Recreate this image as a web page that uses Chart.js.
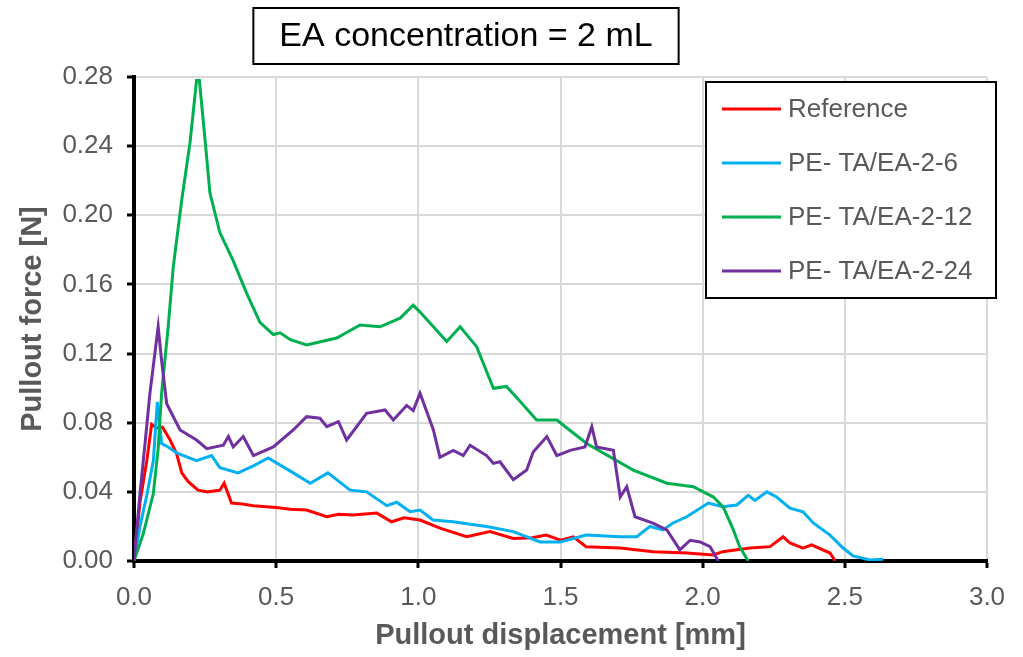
<!DOCTYPE html>
<html lang="en">
  <head>
    <meta charset="UTF-8" />
    <title>Pullout force vs displacement</title>
    <script src="https://cdn.jsdelivr.net/npm/chart.js@4/dist/chart.umd.min.js"></script>
    <style>
      body { margin: 0; background: #fff; }
      #wrap { width: 1023px; height: 657px; }
    </style>
  </head>
  <body>
    <div id="wrap"><canvas id="myChart" width="1023" height="657"></canvas></div>
    <script>
      // series labels + colours (Excel defaults)
      const seriesNames = ["Reference", "PE- TA/EA-2-6", "PE- TA/EA-2-12", "PE- TA/EA-2-24"];
      const seriesColors = ["#FF0000", "#00B0F0", "#00B050", "#7030A0"];

      // axis ticks
      const xTicks = [0, 0.5, 1.0, 1.5, 2.0, 2.5, 3.0];
      const yTicks = [0, 0.04, 0.08, 0.12, 0.16, 0.20, 0.24, 0.28];

      // Reference
      const refX = [0, 0.021, 0.045, 0.062, 0.08, 0.10, 0.127, 0.15, 0.168, 0.19, 0.225, 0.26, 0.302, 0.317, 0.343, 0.38, 0.42, 0.50, 0.55, 0.607, 0.678, 0.72, 0.77, 0.854, 0.906, 0.95, 1.006, 1.076, 1.17, 1.252, 1.334, 1.40, 1.45, 1.50, 1.545, 1.59, 1.71, 1.826, 1.944, 2.037, 2.07, 2.167, 2.237, 2.283, 2.307, 2.353, 2.383, 2.448, 2.466];
      const refY = [0, 0.034, 0.058, 0.079, 0.077, 0.0775, 0.070, 0.062, 0.051, 0.046, 0.041, 0.040, 0.041, 0.045, 0.0335, 0.033, 0.032, 0.031, 0.030, 0.0295, 0.0256, 0.027, 0.0266, 0.0277, 0.0227, 0.025, 0.0237, 0.019, 0.014, 0.017, 0.013, 0.0135, 0.015, 0.012, 0.014, 0.0083, 0.0075, 0.0054, 0.0046, 0.0035, 0.0054, 0.0075, 0.0083, 0.014, 0.0104, 0.0075, 0.0093, 0.0046, 0];

      // PE- TA/EA-2-6
      const s6X = [0, 0.021, 0.045, 0.068, 0.082, 0.097, 0.12, 0.15, 0.22, 0.273, 0.302, 0.366, 0.42, 0.472, 0.55, 0.62, 0.682, 0.76, 0.818, 0.889, 0.924, 0.971, 1.006, 1.052, 1.122, 1.24, 1.334, 1.428, 1.50, 1.59, 1.71, 1.768, 1.815, 1.86, 1.896, 1.944, 2.02, 2.07, 2.12, 2.16, 2.184, 2.226, 2.26, 2.307, 2.353, 2.389, 2.448, 2.494, 2.529, 2.589, 2.635];
      const s6Y = [0, 0.020, 0.038, 0.058, 0.092, 0.068, 0.066, 0.0625, 0.058, 0.061, 0.054, 0.051, 0.055, 0.0596, 0.052, 0.045, 0.051, 0.041, 0.040, 0.032, 0.034, 0.0285, 0.0295, 0.0237, 0.0227, 0.020, 0.017, 0.011, 0.011, 0.015, 0.014, 0.014, 0.020, 0.018, 0.022, 0.0256, 0.0335, 0.0314, 0.0324, 0.038, 0.035, 0.040, 0.037, 0.0306, 0.0285, 0.022, 0.015, 0.0075, 0.0029, 0.0006, 0.001];

      // PE- TA/EA-2-12
      const s12X = [0, 0.033, 0.068, 0.085, 0.097, 0.12, 0.138, 0.168, 0.197, 0.22, 0.23, 0.25, 0.267, 0.302, 0.348, 0.396, 0.443, 0.49, 0.514, 0.55, 0.607, 0.66, 0.713, 0.795, 0.865, 0.936, 0.982, 1.006, 1.053, 1.10, 1.147, 1.205, 1.264, 1.31, 1.36, 1.416, 1.487, 1.592, 1.756, 1.874, 1.967, 2.038, 2.073, 2.108, 2.13, 2.16];
      const s12Y = [0, 0.016, 0.039, 0.065, 0.097, 0.135, 0.170, 0.209, 0.242, 0.278, 0.278, 0.2435, 0.213, 0.190, 0.174, 0.155, 0.138, 0.131, 0.132, 0.128, 0.125, 0.127, 0.129, 0.1365, 0.1355, 0.1405, 0.148, 0.144, 0.1355, 0.127, 0.1355, 0.124, 0.0999, 0.101, 0.092, 0.0816, 0.0816, 0.068, 0.0526, 0.045, 0.043, 0.037, 0.031, 0.018, 0.0083, 0];

      // PE- TA/EA-2-24
      const s24X = [0, 0.021, 0.04, 0.056, 0.085, 0.097, 0.115, 0.162, 0.22, 0.256, 0.314, 0.332, 0.349, 0.384, 0.42, 0.49, 0.56, 0.607, 0.654, 0.678, 0.719, 0.748, 0.818, 0.883, 0.912, 0.959, 0.982, 1.006, 1.053, 1.076, 1.123, 1.158, 1.182, 1.24, 1.264, 1.287, 1.334, 1.381, 1.404, 1.452, 1.487, 1.534, 1.586, 1.61, 1.627, 1.686, 1.71, 1.733, 1.762, 1.827, 1.874, 1.92, 1.956, 1.991, 2.026, 2.055];
      const s24Y = [0, 0.039, 0.070, 0.097, 0.1355, 0.116, 0.091, 0.0758, 0.070, 0.065, 0.067, 0.072, 0.066, 0.072, 0.061, 0.066, 0.0758, 0.0835, 0.0826, 0.0777, 0.0806, 0.070, 0.0854, 0.0874, 0.0816, 0.090, 0.087, 0.097, 0.0758, 0.060, 0.064, 0.061, 0.067, 0.061, 0.0565, 0.0574, 0.047, 0.0526, 0.063, 0.072, 0.061, 0.064, 0.066, 0.0777, 0.066, 0.064, 0.037, 0.043, 0.0256, 0.0218, 0.018, 0.0064, 0.012, 0.011, 0.0083, 0];

      const allX = [refX, s6X, s12X, s24X];
      const allY = [refY, s6Y, s12Y, s24Y];

      const FONT = "'Liberation Sans', Arial, sans-serif";
      const GREY = "#595959";

      function toPoints(xs, ys) {
        return xs.map((x, i) => ({ x: x, y: ys[i] }));
      }

      // boxed title above the plot
      const boxTitle = {
        id: "boxTitle",
        afterDraw(chart, args, opts) {
          const ctx = chart.ctx;
          ctx.save();
          ctx.font = opts.size + "px " + FONT;
          const w = ctx.measureText(opts.text).width;
          const bx = opts.cx - w / 2 - opts.padX;
          const bw = w + opts.padX * 2;
          ctx.fillStyle = "#fff";
          ctx.fillRect(bx, opts.top, bw, opts.height);
          ctx.strokeStyle = "#000";
          ctx.lineWidth = 2;
          ctx.strokeRect(bx, opts.top, bw, opts.height);
          ctx.fillStyle = "#000";
          ctx.textAlign = "center";
          ctx.textBaseline = "middle";
          ctx.fillText(opts.text, opts.cx, opts.top + opts.height / 2 + 1);
          ctx.restore();
        },
      };

      // legend box inside the plot, top right
      const boxLegend = {
        id: "boxLegend",
        afterDraw(chart, args, opts) {
          const ctx = chart.ctx;
          const area = chart.chartArea;
          const right = area.right + opts.offsetRight;
          const left = right - opts.width;
          const top = area.top + opts.offsetTop;
          const sets = chart.data.datasets;
          const h = opts.rowH * sets.length + opts.padY * 2;
          ctx.save();
          ctx.fillStyle = "#fff";
          ctx.fillRect(left, top, opts.width, h);
          ctx.strokeStyle = "#000";
          ctx.lineWidth = 2;
          ctx.strokeRect(left, top, opts.width, h);
          ctx.font = opts.size + "px " + FONT;
          ctx.textBaseline = "middle";
          ctx.textAlign = "left";
          sets.forEach((ds, i) => {
            const y = top + opts.padY + opts.rowH * (i + 0.5);
            ctx.strokeStyle = ds.borderColor;
            ctx.lineWidth = 3;
            ctx.beginPath();
            ctx.moveTo(left + 16, y);
            ctx.lineTo(left + 75, y);
            ctx.stroke();
            ctx.fillStyle = GREY;
            ctx.fillText(ds.label, left + 82, y + 1);
          });
          ctx.restore();
        },
      };

      const ctx = document.getElementById("myChart").getContext("2d");
      const myChart = new Chart(ctx, {
        type: "line",
        data: {
          datasets: seriesNames.map((name, i) => ({
            label: name,
            data: toPoints(allX[i], allY[i]),
            borderColor: seriesColors[i],
            backgroundColor: seriesColors[i],
            borderWidth: 3,
            pointRadius: 0,
            tension: 0,
            fill: false,
            order: seriesNames.length - i,
          })),
        },
        options: {
          responsive: false,
          animation: false,
          layout: { padding: { top: 77, right: 36, left: 0, bottom: 0 } },
          plugins: {
            legend: { display: false },
            title: { display: false },
            tooltip: { enabled: false },
            boxTitle: { text: "EA concentration = 2 mL", cx: 466, top: 8, height: 56, size: 34, padX: 26 },
            boxLegend: { width: 290, offsetRight: 9, offsetTop: 5, rowH: 54, padY: 0, size: 26 },
          },
          scales: {
            x: {
              type: "linear",
              min: 0,
              max: 3,
              afterBuildTicks: (s) => { s.ticks = xTicks.map((v) => ({ value: v })); },
              afterFit: (s) => { s.height = 96; },
              grid: { color: "#d9d9d9", lineWidth: 2, tickColor: "#000", tickWidth: 3, tickLength: 7 },
              border: { color: "#000", width: 4 },
              ticks: {
                color: GREY,
                font: { family: FONT, size: 26 },
                padding: 14,
                maxRotation: 0,
                callback: (v) => v.toFixed(1),
              },
              title: {
                display: true,
                text: "Pullout displacement [mm]",
                color: GREY,
                font: { family: FONT, size: 29, weight: "bold" },
                padding: { top: 0, bottom: 4 },
              },
            },
            y: {
              type: "linear",
              min: 0,
              max: 0.28,
              afterBuildTicks: (s) => { s.ticks = yTicks.map((v) => ({ value: v })); },
              afterFit: (s) => { s.width = 134; },
              grid: { color: "#d9d9d9", lineWidth: 2, tickColor: "#000", tickWidth: 3, tickLength: 7 },
              border: { color: "#000", width: 4 },
              ticks: {
                color: GREY,
                font: { family: FONT, size: 26 },
                padding: 14,
                callback: (v) => v.toFixed(2),
              },
              title: {
                display: true,
                text: "Pullout force [N]",
                color: GREY,
                font: { family: FONT, size: 29, weight: "bold" },
                padding: { top: 16, bottom: 0 },
              },
            },
          },
        },
        plugins: [boxTitle, boxLegend],
      });
    </script>
  </body>
</html>
